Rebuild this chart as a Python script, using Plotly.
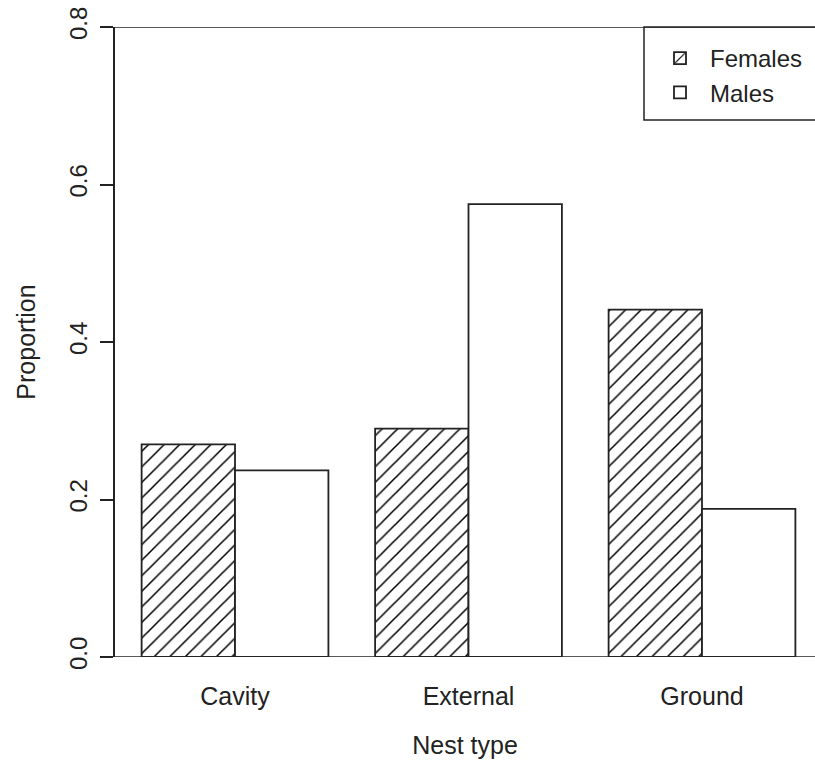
import plotly.graph_objects as go

# Nest type proportions by sex
nest_types = ["Cavity", "External", "Ground"]
females = [0.270, 0.290, 0.441]
males = [0.237, 0.575, 0.188]
y_ticks = [0.0, 0.2, 0.4, 0.6, 0.8]
y_tick_labels = ["0.0", "0.2", "0.4", "0.6", "0.8"]

ink = "#222222"
font_family = "Liberation Sans, Arial, sans-serif"

fig = go.Figure()

fig.add_trace(go.Bar(
    x=nest_types, y=females, name="Females",
    marker=dict(
        color="white",
        line=dict(color=ink, width=1.8),
        pattern=dict(shape="/", fgcolor="black", bgcolor="white",
                     fgopacity=1, size=11, solidity=0.14),
    ),
))
fig.add_trace(go.Bar(
    x=nest_types, y=males, name="Males",
    marker=dict(color="white", line=dict(color=ink, width=1.8)),
))

# horizontal rules at 0 and 0.8, running from the tick ends to the edge
for yv in (y_ticks[0], y_ticks[-1]):
    fig.add_shape(type="line", xref="paper", yref="y",
                  x0=-13 / 700, x1=1.02, y0=yv, y1=yv,
                  line=dict(color=ink, width=1.5), layer="below")

# legend frame, open past the right edge like the original
fig.add_shape(type="rect", xref="paper", yref="paper",
              x0=(644 - 115) / 700, x1=1.02, y0=1 - 93 / 630, y1=1.0,
              line=dict(color=ink, width=1.5), fillcolor="rgba(0,0,0,0)")

fig.update_layout(
    width=815, height=767,
    margin=dict(l=115, r=0, t=27, b=110),
    paper_bgcolor="white", plot_bgcolor="white",
    font=dict(family=font_family, size=25, color=ink),
    barmode="group", bargap=0.2, bargroupgap=0,
    showlegend=True,
    legend=dict(
        x=(650 - 115) / 700, y=1 - 9 / 630, xanchor="left", yanchor="top",
        borderwidth=0, bgcolor="rgba(0,0,0,0)",
        font=dict(size=24), itemwidth=50,
        tracegroupgap=0,
    ),
    xaxis=dict(
        range=[-0.514, 2.484], showline=False, showgrid=False,
        ticks="", ticklabelstandoff=22, zeroline=False,
        tickfont=dict(size=25),
        title=dict(text="Nest type", standoff=27, font=dict(size=25)),
    ),
    yaxis=dict(
        range=[0, 0.8], tickvals=y_ticks, ticktext=y_tick_labels,
        showline=True, linecolor=ink, linewidth=1.5,
        ticks="outside", ticklen=13, tickwidth=1.5, tickcolor=ink,
        tickangle=-90, showgrid=False, zeroline=False,
        ticklabelstandoff=4, tickfont=dict(size=24),
        title=dict(text="Proportion", standoff=22, font=dict(size=25)),
    ),
)

fig.write_html("out.html", config={"displayModeBar": False},
               post_script="document.body.style.margin='0';")
